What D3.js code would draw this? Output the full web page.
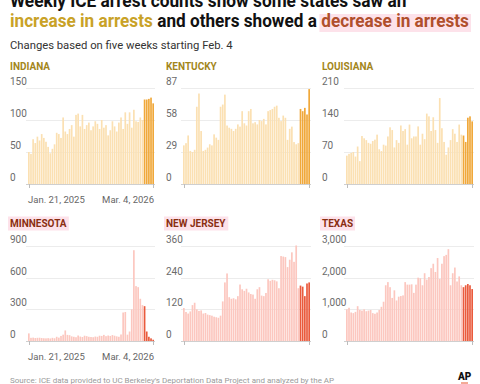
<!DOCTYPE html>
<html>
<head>
<meta charset="utf-8">
<script src="https://cdn.jsdelivr.net/npm/d3@7"></script>
<style>
  body { margin: 0; background: #fff; }
  svg { display: block; }
</style>
</head>
<body>
<div id="chart"></div>
<script>
// weekly ICE arrests, Jan. 21, 2025 to Mar. 4, 2026 (last five weeks = Feb. 4 onward)
const indiana = [50, 47, 70, 64, 74, 68, 78, 72, 66, 58, 48, 55, 62, 80, 78, 72, 104, 82, 78, 86,
  92, 74, 108, 110, 90, 108, 86, 92, 96, 84, 90, 98, 94, 86, 100, 88, 92, 76, 84, 98,
  90, 82, 96, 104, 86, 112, 94, 112, 88, 116, 98, 97, 104, 100, 132, 132, 133, 135, 126];
const kentucky = [35, 37, 44, 30, 29, 31, 70, 82, 48, 30, 31, 33, 36, 35, 45, 42, 40, 70, 72, 81,
  53, 51, 50, 48, 50, 54, 52, 66, 55, 53, 66, 68, 55, 56, 54, 58, 57, 59, 54, 66,
  67, 68, 70, 71, 60, 57, 62, 60, 40, 50, 52, 38, 36, 37, 68, 66, 69, 63, 86];
const louisiana = [62, 66, 68, 70, 60, 82, 50, 105, 100, 96, 90, 88, 94, 97, 108, 76, 72, 86, 84, 104,
  124, 118, 80, 96, 90, 128, 116, 120, 86, 130, 100, 104, 104, 126, 86, 110, 98, 154, 148, 116,
  146, 118, 90, 188, 122, 92, 64, 80, 96, 120, 110, 92, 130, 108, 106, 92, 145, 148, 137];
const minnesota = [72, 30, 32, 28, 30, 31, 28, 26, 25, 27, 24, 30, 26, 40, 32, 48, 60, 100, 58, 55,
  44, 40, 36, 52, 42, 38, 50, 46, 40, 38, 36, 42, 40, 50, 48, 58, 46, 52, 48, 56,
  50, 44, 40, 62, 270, 275, 60, 90, 300, 860, 520, 510, 400, 340, 330, 90, 40, 25, 12];
const newJersey = [125, 110, 104, 112, 136, 145, 120, 114, 116, 104, 106, 100, 98, 96, 92, 90, 88, 96,
  150, 222, 256, 166, 160, 162, 158, 170,
  214, 196, 190, 198, 184, 178, 176, 160, 196, 204, 172, 170, 182,
  234, 228, 232, 230, 226, 200,
  322, 320, 318, 280, 308, 336, 300, 362, 200, 210, 206, 170, 218, 222];
const texas = [1000, 1050, 900, 880, 920, 1100, 980, 960, 1000, 940, 960, 980, 880, 860, 900, 980, 1080, 1240, 1760, 1860,
  1700, 1360, 1600, 1280, 1400, 1420, 1440, 1860, 1780, 1780, 1790, 1520, 1780, 2000, 1980, 1760, 2140, 1940, 2020, 2300,
  2440, 2180, 2620, 1960, 2440, 2680, 2720, 2900, 1760, 2140, 2320, 1880, 2040, 1760, 1700, 1760, 1800, 1760, 1640];

const stateNames = ["INDIANA", "KENTUCKY", "LOUISIANA", "MINNESOTA", "NEW JERSEY", "TEXAS"];
const stateValues = [indiana, kentucky, louisiana, minnesota, newJersey, texas];
const stateTicks = [[0, 50, 100, 150], [0, 29, 58, 87], [0, 70, 140, 210],
  [0, 300, 600, 900], [0, 120, 240, 360], [0, 1000, 2000, 3000]];
const increased = [true, true, true, false, false, false];
const dateLabels = ["Jan. 21, 2025", "Mar. 4, 2026"];
const highlightWeeks = 5;

var w = 480;
var h = 384;
const font = "Roboto, 'Noto Sans', sans-serif";

// colours
const upBar = "#fbe0b2", upHi = "#f0a83a", upText = "#a3861b", upTitle = "#c9a227";
const downBar = "#fcc7bf", downHi = "#ea5a3c", downText = "#8a2e10", downTitle = "#b04f2c";
const pinkBg = "#fde2ea";

const svg = d3.select("#chart").append("svg")
  .attr("width", w)
  .attr("height", h);

// headline, squeezed to the measured width
function fitLine(g, width) {
  const bw = g.node().getBBox().width;
  g.attr("transform", g.attr("transform") + ` scale(${width / bw},1)`);
}

const line1 = svg.append("g").attr("transform", "translate(10,6.5)");
line1.append("text")
  .attr("font-family", font).attr("font-weight", 700).attr("font-size", 18)
  .attr("fill", "#111")
  .text("Weekly ICE arrest counts show some states saw an");
fitLine(line1, 397);

const line2 = svg.append("g").attr("transform", "translate(10,27)");
const pieces = [["increase in arrests", upTitle], [" and others showed a ", "#111"], ["decrease in arrests", downTitle]];
let cx = 0;
const bgRect = line2.append("rect").attr("fill", pinkBg);
pieces.forEach(function (p, i) {
  const t = line2.append("text")
    .attr("x", cx)
    .attr("font-family", font).attr("font-weight", 700).attr("font-size", 18)
    .attr("fill", p[1])
    .style("white-space", "pre")
    .text(p[0]);
  const tw = t.node().getComputedTextLength();
  if (i == 2) {
    bgRect.attr("x", cx - 2).attr("y", -13).attr("width", tw + 4).attr("height", 18);
  }
  cx += tw;
});
fitLine(line2, 461);

const sub = svg.append("g").attr("transform", "translate(10,49)");
sub.append("text")
  .attr("font-family", font).attr("font-size", 11).attr("fill", "#333")
  .text("Changes based on five weeks starting Feb. 4");
fitLine(sub, 223);

// panel layout
const cols = [{ x: 10, left: 28, right: 154 }, { x: 166, left: 183, right: 310 }, { x: 322, left: 346, right: 473 }];
const rows = [{ title: 70, top: 88, base: 184, date: 202.5 }, { title: 226.5, top: 246, base: 341, date: 360 }];

stateNames.forEach(function (name, i) {
  const col = cols[i % 3];
  const row = rows[Math.floor(i / 3)];
  const values = stateValues[i];
  const ticks = stateTicks[i];
  const n = values.length;
  const up = increased[i];

  const x = d3.scaleBand()
    .domain(d3.range(n))
    .range([col.left, col.right])
    .paddingInner(0.22);

  const y = d3.scaleLinear()
    .domain([0, ticks[ticks.length - 1]])
    .range([row.base, row.top]);

  const g = svg.append("g");

  // panel title
  const title = g.append("text")
    .attr("x", col.x)
    .attr("y", row.title)
    .attr("font-family", font).attr("font-weight", 700).attr("font-size", 10)
    .attr("fill", up ? upText : downText)
    .text(name);
  if (!up) {
    const b = title.node().getBBox();
    g.insert("rect", "text")
      .attr("x", b.x - 2).attr("y", row.title - 10)
      .attr("width", b.width + 4).attr("height", 14)
      .attr("fill", pinkBg);
  }

  // gridlines and tick labels
  g.selectAll(".grid")
    .data(ticks)
    .enter()
    .append("line")
    .attr("x1", col.left - 2)
    .attr("x2", col.right + 1)
    .attr("y1", (d) => Math.round(y(d)) + 0.5)
    .attr("y2", (d) => Math.round(y(d)) + 0.5)
    .attr("stroke", (d) => (d == 0 ? "#cfcfcf" : "#ececec"))
    .attr("stroke-width", 1);

  g.selectAll(".tick-label")
    .data(ticks)
    .enter()
    .append("text")
    .attr("x", col.x)
    .attr("y", (d) => y(d) - 3)
    .attr("font-family", font).attr("font-size", 10)
    .attr("fill", "#6b6b6b")
    .text(d3.format(","));

  // bars
  g.selectAll(".bar")
    .data(values)
    .enter()
    .append("rect")
    .attr("x", (d, j) => x(j))
    .attr("width", x.bandwidth())
    .attr("y", (d) => y(d))
    .attr("height", (d) => y(0) - y(d))
    .attr("fill", (d, j) => {
      const hi = j >= n - highlightWeeks;
      if (up) return hi ? upHi : upBar;
      return hi ? downHi : downBar;
    });

  // end ticks on the date axis
  [0, n - 1].forEach(function (j) {
    const tx = Math.round(x(j) + x.bandwidth() / 2) + 0.5;
    g.append("line")
      .attr("x1", tx).attr("x2", tx)
      .attr("y1", row.base).attr("y2", row.base + 4)
      .attr("stroke", "#bdbdbd");
  });

  if (i % 3 == 0) {
    g.append("text")
      .attr("x", x(0))
      .attr("y", row.date)
      .attr("font-family", font).attr("font-size", 9.5)
      .attr("fill", "#666")
      .text(dateLabels[0]);
    g.append("text")
      .attr("x", x(n - 1) + x.bandwidth())
      .attr("y", row.date)
      .attr("text-anchor", "end")
      .attr("font-family", font).attr("font-size", 9.5)
      .attr("fill", "#666")
      .text(dateLabels[1]);
  }
});

// source line and logo
svg.append("text")
  .attr("x", 10).attr("y", 383)
  .attr("font-family", font).attr("font-size", 8)
  .attr("fill", "#9a9a9a")
  .text("Source: ICE data provided to UC Berkeley's Deportation Data Project and analyzed by the AP");

svg.append("text")
  .attr("x", 458).attr("y", 380)
  .attr("font-family", font).attr("font-weight", 900).attr("font-size", 10)
  .attr("fill", "#111")
  .text("AP");
svg.append("line")
  .attr("x1", 461).attr("x2", 468)
  .attr("y1", 383).attr("y2", 383)
  .attr("stroke", "#e8552f").attr("stroke-width", 1);
</script>
</body>
</html>
